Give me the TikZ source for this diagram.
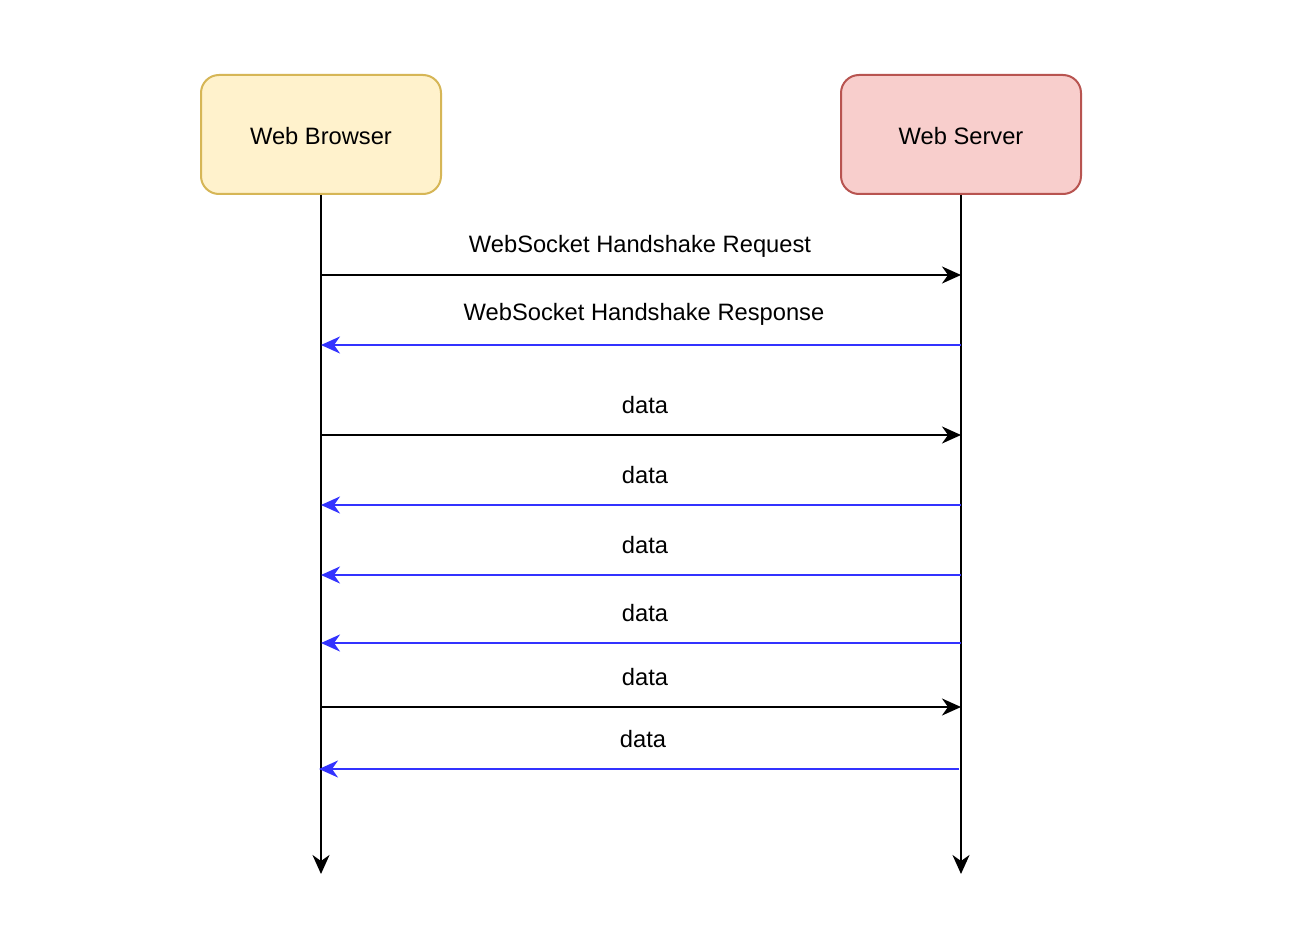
\documentclass[tikz,border=0pt]{standalone}
\usepackage{fontspec}
\setmainfont{Liberation Sans}
\usetikzlibrary{arrows.meta}
\definecolor{bfill}{HTML}{FFF2CC}
\definecolor{bstroke}{HTML}{D6B656}
\definecolor{sfill}{HTML}{F8CECC}
\definecolor{sstroke}{HTML}{B85450}
\definecolor{msgblue}{HTML}{3333FF}
\begin{document}
\begin{tikzpicture}[x=1pt,y=-1pt,
  every node/.style={font=\fontsize{23.7}{28}\selectfont},
  actor/.style={draw, line width=2pt, rounded corners=18pt, minimum width=240pt, minimum height=119pt, inner sep=0pt},
  tip/.style={-{Stealth[length=19pt,width=17pt,inset=6pt]}},
  life/.style={tip, line width=2pt, black},
  req/.style={tip, line width=2pt, black},
  resp/.style={tip, line width=2pt, msgblue},
  lbl/.style={inner sep=0pt, anchor=center}]
\useasboundingbox (0,0) rectangle (1314,944);
\fill[white] (0,0) rectangle (1314,944);
\node[actor, fill=bfill, draw=bstroke] (browser) at (321,134.5) {\raisebox{-2pt}[\height][\depth]{Web Browser}};
\node[actor, fill=sfill, draw=sstroke] (server) at (961,134.5) {\raisebox{-2pt}[\height][\depth]{Web Server}};
\coordinate (bend) at (321,874);
\coordinate (send) at (961,874);
\draw[life] (browser.south) -- (bend);
\draw[life] (server.south) -- (send);
% messages
\foreach \n/\y in {1/275,2/345,3/435,4/505,5/575,6/643,7/707}{
  \coordinate (b\n) at (321,\y);
  \coordinate (s\n) at (961,\y);
}
\coordinate (b8) at (319,769);
\coordinate (s8) at (959,769);
\draw[req] (b1) -- (s1);
\draw[resp] (s2) -- (b2);
\draw[req] (b3) -- (s3);
\draw[resp] (s4) -- (b4);
\draw[resp] (s5) -- (b5);
\draw[resp] (s6) -- (b6);
\draw[req] (b7) -- (s7);
\draw[resp] (s8) -- (b8);
\node[lbl] (l1) at (640,246) {WebSocket Handshake Request};
\node[lbl] (l2) at (644,314) {WebSocket Handshake Response};
\node[lbl] (l3) at (645,405) {data};
\node[lbl] (l4) at (645,475) {data};
\node[lbl] (l5) at (645,545) {data};
\node[lbl] (l6) at (645,613) {data};
\node[lbl] (l7) at (645,677) {data};
\node[lbl] (l8) at (643,739) {data};
\end{tikzpicture}
\end{document}
